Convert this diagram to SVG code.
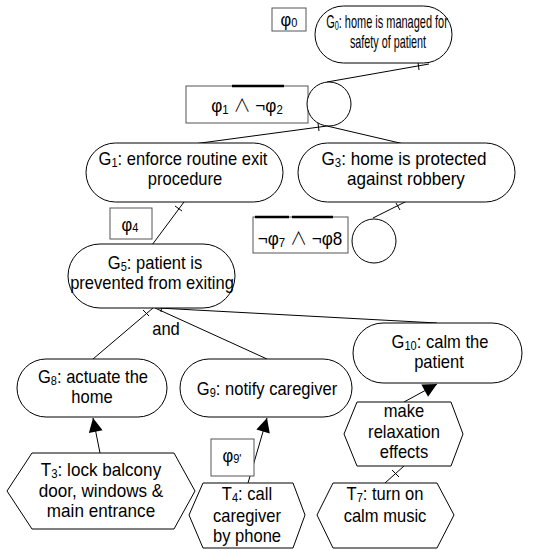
<svg xmlns="http://www.w3.org/2000/svg" width="550" height="550" viewBox="0 0 550 550">
<style>
.n{fill:#fff;stroke:#000;stroke-width:1}
.b{fill:#fff;stroke:#555;stroke-width:1}
.t{font-family:"Liberation Sans",Arial,sans-serif;font-size:18px;fill:#000;text-anchor:middle}
.s{font-size:12px}
.w{font-family:"Noto Sans CJK JP","Liberation Sans",sans-serif;font-weight:300}
.c{fill:none;stroke:#000;stroke-width:1}
.ob{stroke:#000;stroke-width:2.5}
</style>
<defs>
<marker id="ah" viewBox="0 0 10 10" refX="10" refY="5" markerWidth="16" markerHeight="14" markerUnits="userSpaceOnUse" orient="auto">
<path d="M0,0 L10,5 L0,10 z" fill="#000"/>
</marker>
</defs>
<rect width="550" height="550" fill="#fff"/>
<g id="connectors">
<line class="c" x1="429" y1="64" x2="327" y2="82"/>
<line class="c" x1="418" y1="62" x2="419" y2="70"/>
<line class="c" x1="327" y1="126" x2="186" y2="145"/>
<line class="c" x1="327" y1="126" x2="404" y2="144"/>
<line class="c" x1="318" y1="123" x2="319" y2="131"/>
<line class="c" x1="184" y1="202" x2="152" y2="245"/>
<line class="c" x1="175" y1="206" x2="182" y2="211"/>
<line class="c" x1="407" y1="201" x2="373" y2="218"/>
<line class="c" x1="396" y1="203" x2="400" y2="210"/>
<line class="c" x1="153" y1="308" x2="93" y2="359"/>
<line class="c" x1="143" y1="310" x2="149" y2="316"/>
<line class="c" x1="155" y1="308" x2="267" y2="359"/>
<line class="c" x1="158" y1="308" x2="437" y2="323"/>
<line class="c" x1="162" y1="304" x2="161" y2="312"/>
<line class="c" x1="100" y1="453" x2="93" y2="418" marker-end="url(#ah)"/>
<line class="c" x1="248" y1="483" x2="267" y2="418" marker-end="url(#ah)"/>
<line class="c" x1="404" y1="402" x2="437" y2="384" marker-end="url(#ah)"/>
<line class="c" x1="385" y1="483" x2="404" y2="466"/>
<line class="c" x1="392" y1="470" x2="399" y2="477"/>
</g>
<g id="phi0">
<rect class="b" x="272" y="8" width="34" height="23"/>
<text class="t" transform="translate(289,26) scale(0.92,1)">φ<tspan class="s" dy="1">0</tspan></text>
</g>
<g id="G0">
<rect class="n" x="315" y="6" width="137" height="57" rx="28.5"/>
<text class="t" transform="translate(387,28) scale(0.61,1)">G<tspan class="s" dy="2">0</tspan><tspan dy="-2">: home is managed for</tspan></text>
<text class="t" transform="translate(388,48) scale(0.6,1)">safety of patient</text>
</g>
<g id="phi12">
<rect class="b" x="186" y="86" width="122" height="37"/>
<line class="ob" x1="232" y1="86" x2="284" y2="86"/>
<text class="t" transform="translate(247,112) scale(0.95,1)">φ<tspan class="s" dy="2">1</tspan><tspan dy="-2"> </tspan><tspan class="w">∧</tspan><tspan> ¬φ</tspan><tspan class="s" dy="2">2</tspan></text>
</g>
<g id="or1">
<circle class="n" cx="329" cy="104" r="22"/>
</g>
<g id="G1">
<rect class="n" x="86" y="143" width="197" height="59" rx="29.5"/>
<text class="t" transform="translate(183,165) scale(0.92,1)">G<tspan class="s" dy="2">1</tspan><tspan dy="-2">: enforce routine exit</tspan></text>
<text class="t" transform="translate(185,185) scale(0.92,1)">procedure</text>
</g>
<g id="G3">
<rect class="n" x="298" y="143" width="217" height="59" rx="29.5"/>
<text class="t" transform="translate(404,165) scale(0.95,1)">G<tspan class="s" dy="2">3</tspan><tspan dy="-2">: home is protected</tspan></text>
<text class="t" transform="translate(406,185) scale(0.95,1)">against robbery</text>
</g>
<g id="phi4">
<rect class="b" x="110" y="208" width="42" height="31"/>
<text class="t" transform="translate(130,231) scale(0.92,1)">φ<tspan class="s" dy="1">4</tspan></text>
</g>
<g id="phi78">
<rect class="b" x="253" y="217" width="95" height="36"/>
<line class="ob" x1="255" y1="217" x2="289" y2="217"/>
<line class="ob" x1="292" y1="217" x2="333" y2="217"/>
<text class="t" transform="translate(300,245) scale(0.95,1)">¬φ<tspan class="s" dy="2">7</tspan><tspan dy="-2"> </tspan><tspan class="w">∧</tspan><tspan> ¬φ8</tspan></text>
</g>
<g id="or2">
<circle class="n" cx="374" cy="241" r="22"/>
</g>
<g id="G5">
<rect class="n" x="68" y="244" width="167" height="64" rx="32"/>
<text class="t" transform="translate(155,269) scale(0.92,1)">G<tspan class="s" dy="2">5</tspan><tspan dy="-2">: patient is</tspan></text>
<text class="t" transform="translate(152,289) scale(0.92,1)">prevented from exiting</text>
</g>
<text class="t" transform="translate(166,335) scale(0.92,1)">and</text>
<g id="G10">
<rect class="n" x="353" y="323" width="169" height="60" rx="30"/>
<text class="t" transform="translate(440,348) scale(0.92,1)">G<tspan class="s" dy="2">10</tspan><tspan dy="-2">: calm the</tspan></text>
<text class="t" transform="translate(439,368) scale(0.92,1)">patient</text>
</g>
<g id="G8">
<rect class="n" x="17" y="359" width="150" height="58" rx="29"/>
<text class="t" transform="translate(93,383) scale(0.92,1)">G<tspan class="s" dy="2">8</tspan><tspan dy="-2">: actuate the</tspan></text>
<text class="t" transform="translate(92,403) scale(0.92,1)">home</text>
</g>
<g id="G9">
<rect class="n" x="180" y="359" width="172" height="58" rx="29"/>
<text class="t" transform="translate(267,395) scale(0.92,1)">G<tspan class="s" dy="2">9</tspan><tspan dy="-2">: notify caregiver</tspan></text>
</g>
<g id="relax">
<path class="n" d="M344,434 L357,402 L451,402 L463,434 L451,466 L357,466 Z"/>
<text class="t" transform="translate(404,417) scale(0.92,1)">make</text>
<text class="t" transform="translate(404,438) scale(0.92,1)">relaxation</text>
<text class="t" transform="translate(404,458) scale(0.92,1)">effects</text>
</g>
<g id="T3">
<path class="n" d="M7,491 L32,453 L174,453 L195,491 L174,529 L32,529 Z"/>
<text class="t" transform="translate(101,476) scale(0.95,1)">T<tspan class="s" dy="2">3</tspan><tspan dy="-2">: lock balcony</tspan></text>
<text class="t" transform="translate(101,497) scale(0.95,1)">door, windows &amp;</text>
<text class="t" transform="translate(101,517) scale(0.95,1)">main entrance</text>
</g>
<g id="T4">
<path class="n" d="M189,515 L203,483 L293,483 L305,515 L293,548 L203,548 Z"/>
<text class="t" transform="translate(247,500) scale(0.92,1)">T<tspan class="s" dy="2">4</tspan><tspan dy="-2">: call</tspan></text>
<text class="t" transform="translate(247,522) scale(0.92,1)">caregiver</text>
<text class="t" transform="translate(247,542) scale(0.92,1)">by phone</text>
</g>
<g id="phi9">
<rect class="b" x="211" y="439" width="43" height="37"/>
<text class="t" transform="translate(232,462) scale(0.92,1)">φ<tspan class="s" dy="1">9'</tspan></text>
</g>
<g id="T7">
<path class="n" d="M317,515 L333,483 L437,483 L454,515 L437,548 L333,548 Z"/>
<text class="t" transform="translate(385,500) scale(0.92,1)">T<tspan class="s" dy="2">7</tspan><tspan dy="-2">: turn on</tspan></text>
<text class="t" transform="translate(385,522) scale(0.92,1)">calm music</text>
</g>
</svg>
